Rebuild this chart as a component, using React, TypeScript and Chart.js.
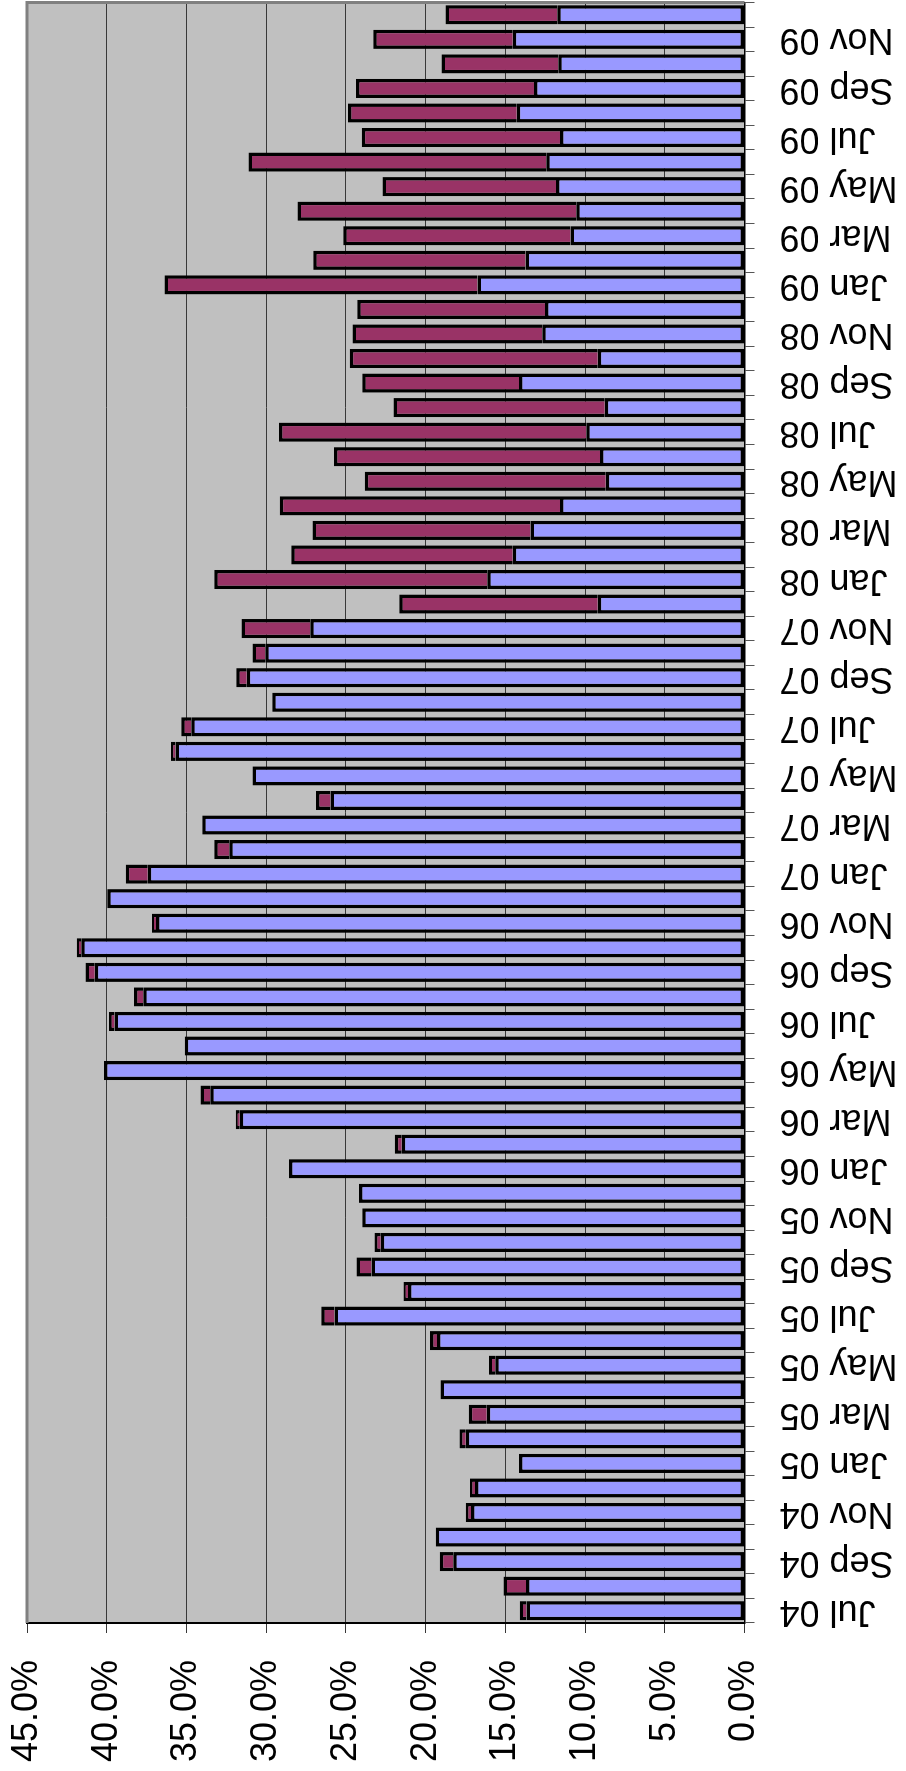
import React, { useEffect, useRef } from 'react';
import { Chart, registerables } from 'chart.js';

Chart.register(...registerables);

const months: string[] = [
  'Jul 04', 'Aug 04', 'Sep 04', 'Oct 04', 'Nov 04', 'Dec 04',
  'Jan 05', 'Feb 05', 'Mar 05', 'Apr 05', 'May 05', 'Jun 05', 'Jul 05', 'Aug 05', 'Sep 05', 'Oct 05', 'Nov 05', 'Dec 05',
  'Jan 06', 'Feb 06', 'Mar 06', 'Apr 06', 'May 06', 'Jun 06', 'Jul 06', 'Aug 06', 'Sep 06', 'Oct 06', 'Nov 06', 'Dec 06',
  'Jan 07', 'Feb 07', 'Mar 07', 'Apr 07', 'May 07', 'Jun 07', 'Jul 07', 'Aug 07', 'Sep 07', 'Oct 07', 'Nov 07', 'Dec 07',
  'Jan 08', 'Feb 08', 'Mar 08', 'Apr 08', 'May 08', 'Jun 08', 'Jul 08', 'Aug 08', 'Sep 08', 'Oct 08', 'Nov 08', 'Dec 08',
  'Jan 09', 'Feb 09', 'Mar 09', 'Apr 09', 'May 09', 'Jun 09', 'Jul 09', 'Aug 09', 'Sep 09', 'Oct 09', 'Nov 09', 'Dec 09',
];

// lower (blue) segment, percent
const baseSeries: number[] = [
  13.67, 13.71, 18.27, 19.36, 17.15, 16.9,
  14.14, 17.48, 16.17, 19.07, 15.63, 19.29, 25.71, 21.1, 23.39, 22.81, 23.97, 24.18,
  28.57, 21.5, 31.65, 33.5, 40.17, 35.1, 39.52, 37.71, 40.75, 41.59, 36.91, 39.96,
  37.42, 32.31, 34.01, 25.96, 30.86, 35.68, 34.7, 29.62, 31.22, 30.06, 27.23, 9.21,
  16.13, 14.54, 13.42, 11.57, 8.7, 9.06, 9.93, 8.77, 14.14, 9.21, 12.69, 12.51,
  16.75, 13.74, 10.91, 10.55, 11.82, 12.44, 11.57, 14.29, 13.2, 11.68, 14.54, 11.75,
];

// upper (maroon) segment, percent
const topSeries: (number | null)[] = [
  0.43, 1.41, 0.84, null, 0.33, 0.32,
  null, 0.4, 1.13, null, 0.4, 0.43, 0.83, 0.29, 0.94, 0.4, null, null,
  null, 0.44, 0.26, 0.62, null, null, 0.33, 0.58, 0.58, 0.29, 0.25, null,
  1.38, 0.94, null, 0.91, null, 0.29, 0.62, null, 0.65, 0.8, 4.31, 12.44,
  17.12, 13.89, 13.67, 17.58, 15.12, 16.68, 19.26, 13.24, 9.83, 15.55, 11.89, 11.78,
  19.62, 13.31, 14.25, 17.48, 10.88, 18.67, 12.43, 10.58, 11.17, 7.32, 8.74, 7.0,
];

const valueTickLabels: string[] = [
  '0.0%', '5.0%', '10.0%', '15.0%', '20.0%', '25.0%', '30.0%', '35.0%', '40.0%', '45.0%',
];

const W = 1771;
const H = 906;
const FONT = '"Liberation Sans", Arial, sans-serif';

const plotFrame = {
  id: 'plotFrame',
  beforeDraw(chart: any) {
    const { ctx, chartArea: a } = chart;
    ctx.save();
    ctx.fillStyle = '#C0C0C0';
    ctx.fillRect(a.left, a.top, a.right - a.left, a.bottom - a.top);
    ctx.restore();
  },
  afterDraw(chart: any) {
    const { ctx, chartArea: a } = chart;
    ctx.save();
    ctx.strokeStyle = '#808080';
    ctx.lineWidth = 3;
    ctx.beginPath();
    ctx.moveTo(a.left, a.top);
    ctx.lineTo(a.right, a.top);
    ctx.lineTo(a.right, a.bottom);
    ctx.stroke();
    ctx.restore();
  },
};

export default function App() {
  const ref = useRef<HTMLCanvasElement | null>(null);

  useEffect(() => {
    if (!ref.current) return;
    const chart = new Chart(ref.current, {
      type: 'bar',
      data: {
        labels: months,
        datasets: [
          {
            label: 'Base',
            data: baseSeries,
            backgroundColor: '#9999FF',
            borderColor: '#000000',
            borderWidth: 3.5,
            borderSkipped: false,
            categoryPercentage: 1,
            barPercentage: 0.78,
          },
          {
            label: 'Extra',
            data: topSeries,
            backgroundColor: '#993366',
            borderColor: '#000000',
            borderWidth: 3.5,
            categoryPercentage: 1,
            barPercentage: 0.78,
          },
        ],
      },
      options: {
        responsive: false,
        animation: false,
        devicePixelRatio: 1,
        layout: { padding: { top: 27, right: 2.5, left: 0, bottom: 0 } },
        plugins: {
          legend: { display: false },
          tooltip: { enabled: false },
        },
        scales: {
          x: {
            stacked: true,
            offset: true,
            grid: {
              offset: true,
              drawOnChartArea: false,
              drawTicks: true,
              tickLength: 10,
              color: '#555555',
            },
            border: { display: true, color: '#000000', width: 1.5 },
            ticks: {
              autoSkip: false,
              minRotation: 90,
              maxRotation: 90,
              padding: 25,
              color: '#000000',
              font: { family: FONT, size: 36 },
              callback: (_v: any, i: number) => (i % 2 === 0 ? months[i] : ''),
            },
            afterFit: (s: any) => {
              s.height = H - 744.5;
              s.paddingLeft = 0;
              s.paddingRight = 0;
            },
          },
          y: {
            stacked: true,
            min: 0,
            max: 45,
            grid: {
              color: '#383838',
              lineWidth: 1,
              tickLength: 10,
            },
            border: { display: true, color: '#000000', width: 2 },
            ticks: {
              stepSize: 5,
              padding: 27,
              color: '#000000',
              font: { family: FONT, size: 36 },
              callback: (_v: any, i: number) => valueTickLabels[i],
            },
            afterFit: (s: any) => {
              s.width = 148;
              s.paddingTop = 0;
              s.paddingBottom = 0;
            },
          },
        },
      },
      plugins: [plotFrame],
    } as any);
    return () => chart.destroy();
  }, []);

  return (
    <div style={{ position: 'absolute', left: 0, top: 0, width: 906, height: 1771, overflow: 'hidden', background: '#fff' }}>
      <div
        style={{
          position: 'absolute',
          left: 0,
          top: 0,
          width: W,
          height: H,
          transformOrigin: '0 0',
          transform: `translateY(${W}px) rotate(-90deg)`,
        }}
      >
        <canvas ref={ref} width={W} height={H} style={{ display: 'block', width: W, height: H }} />
      </div>
    </div>
  );
}
